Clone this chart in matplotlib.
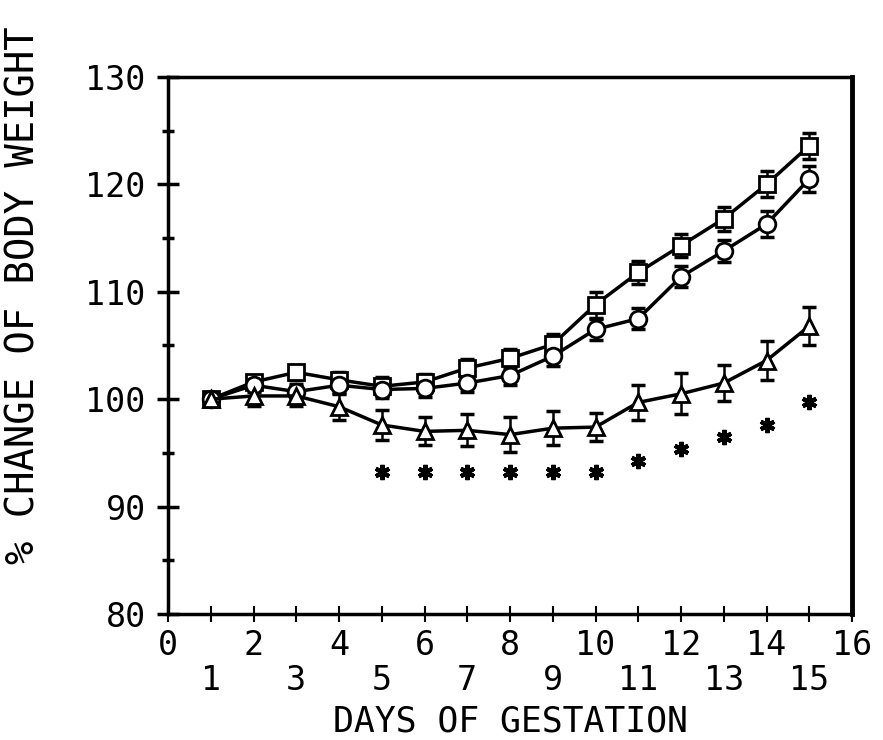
import numpy as np
from matplotlib import pyplot as plt

# days of gestation
days = np.arange(1, 16)

# % change of body weight
square_y = [100, 101.6, 102.5, 101.8, 101.2, 101.6, 102.9, 103.8, 105.1, 108.8,
            111.8, 114.3, 116.8, 120.0, 123.6]
square_err = [0, 0.6, 0.7, 0.7, 0.9, 0.7, 0.8, 0.9, 1.0, 1.2, 1.1, 1.1, 1.1, 1.2, 1.2]

circle_y = [100, 101.3, 100.7, 101.3, 100.9, 101.0, 101.5, 102.2, 104.0, 106.5,
            107.5, 111.4, 113.8, 116.3, 120.5]
circle_err = [0, 0.6, 0.7, 0.7, 0.8, 0.8, 0.8, 0.9, 0.9, 1.0, 1.0, 1.0, 1.0, 1.2, 1.2]

triangle_y = [100, 100.3, 100.3, 99.3, 97.6, 97.0, 97.1, 96.7, 97.3, 97.4,
              99.7, 100.5, 101.5, 103.6, 106.8]
triangle_err = [0, 0.9, 0.9, 1.2, 1.4, 1.3, 1.5, 1.6, 1.6, 1.3, 1.6, 1.9, 1.7, 1.8, 1.8]

# significance marks (*) below the triangle series
star_days = [5, 6, 7, 8, 9, 10, 11, 12, 13, 14, 15]
star_y = [93.2, 93.2, 93.2, 93.2, 93.2, 93.2, 94.2, 95.4, 96.5, 97.6, 99.7]

even_ticks = list(range(0, 17, 2))
odd_ticks = list(range(1, 16, 2))
y_ticks = [80, 90, 100, 110, 120, 130]

plt.rcParams['font.family'] = ['DejaVu Sans Mono']

fig = plt.figure(figsize=(8.83, 7.40), dpi=100)
ax = fig.add_axes([0.1903, 0.1703, 0.7746, 0.7257])

def series(y, err, marker, ms):
    ax.errorbar(days, y, yerr=err, fmt='none', ecolor='black', elinewidth=1.8,
                capsize=5, capthick=2.5, zorder=2)
    ax.plot(days, y, '-', color='black', lw=2.5, marker=marker, ms=ms,
            mfc='white', mec='black', mew=2, zorder=3)

series(square_y, square_err, 's', 12)
series(circle_y, circle_err, 'o', 12)
series(triangle_y, triangle_err, '^', 11)

ax.plot(star_days, star_y, linestyle='none', marker=(6, 2, 0), ms=11,
        mec='black', mew=3, zorder=3)

ax.set_xlim(0, 16)
ax.set_ylim(80, 130)

ax.set_xticks(even_ticks)
ax.set_xticklabels([str(v) for v in even_ticks])
ax.set_xticks(odd_ticks, minor=True)
ax.set_xticklabels([str(v) for v in odd_ticks], minor=True)
ax.set_yticks(y_ticks)
ax.set_yticklabels([str(v) for v in y_ticks])
ax.set_yticks(np.arange(85, 130, 10), minor=True)

ax.tick_params(axis='x', which='both', direction='inout', length=12, width=1.5,
               labelsize=24)
ax.tick_params(axis='x', which='major', pad=5)
ax.tick_params(axis='x', which='minor', pad=30)
ax.tick_params(axis='y', which='major', direction='inout', length=16, width=2.5,
               labelsize=24, pad=8)
ax.tick_params(axis='y', which='minor', direction='inout', length=9, width=2.5)

for s in ax.spines.values():
    s.set_linewidth(2.5)
ax.spines['right'].set_linewidth(3.5)

ax.set_xlabel("DAYS OF GESTATION", fontsize=25)
ax.set_ylabel("% CHANGE OF BODY WEIGHT", fontsize=28)
ax.yaxis.set_label_coords(-0.184, 0.594)
ax.xaxis.set_label_coords(0.5, -0.169)

plt.savefig("out.png", dpi=100)
